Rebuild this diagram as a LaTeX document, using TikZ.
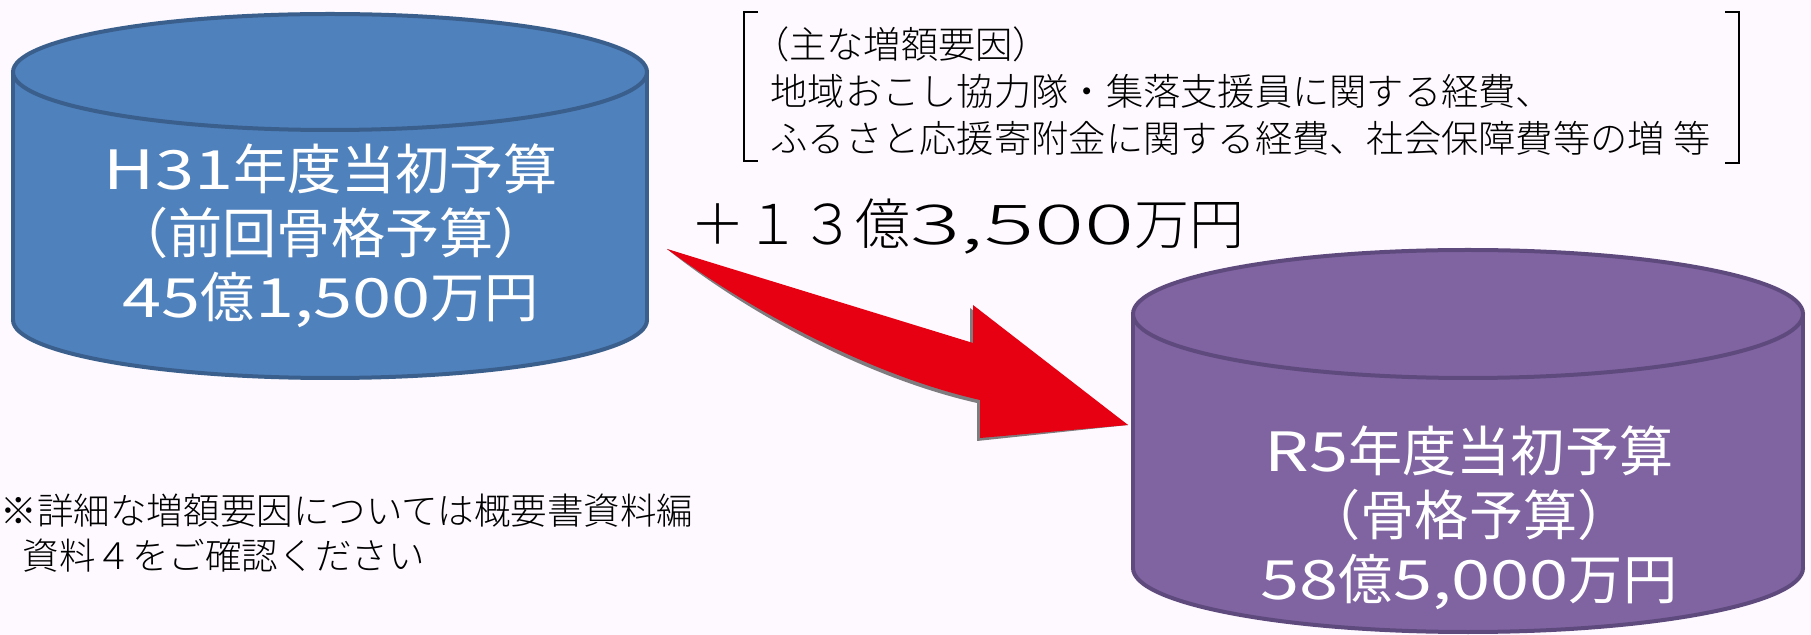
\documentclass[tikz,border=0pt]{standalone}
\usepackage{fontspec}
\setmainfont{Noto Sans CJK JP}
\IfFontExistsTF{Noto Sans CJK JP Light}{\newfontfamily\lightfont{Noto Sans CJK JP Light}}{\newfontfamily\lightfont{Noto Sans CJK JP}}
\usepackage{graphicx}
\definecolor{bg}{RGB}{253,249,254}
\definecolor{cylblue}{HTML}{4F81BD}
\definecolor{cylblueline}{HTML}{3A5F8C}
\definecolor{cylpurple}{HTML}{8064A2}
\definecolor{cylpurpleline}{HTML}{5F4A7D}
\definecolor{arrowred}{HTML}{E60012}
\newcommand\wdig[2][1.3]{\scalebox{#1}[1]{#2}}
% cx, top cy, bottom cy, rx, ry, fill, line
\newcommand\drawcan[7]{%
  \filldraw[fill=#6,draw=#7,line width=0.4mm] (#1,#3) ellipse [x radius=#4, y radius=#5];
  \fill[#6] (#1-#4,#2) rectangle (#1+#4,#3);
  \draw[#7,line width=0.4mm] (#1-#4,#2) -- (#1-#4,#3) (#1+#4,#2) -- (#1+#4,#3);
  \filldraw[fill=#6,draw=#7,line width=0.4mm] (#1,#2) ellipse [x radius=#4, y radius=#5];
}
\begin{document}
\begin{tikzpicture}[x=0.1mm,y=-0.1mm,
  cyltext/.style={text=white, align=center, inner sep=0, font=\fontsize{15.4}{18.2}\selectfont},
  notetext/.style={align=left, inner sep=0, anchor=north west, font=\lightfont\fontsize{10.6}{13.4}\selectfont},
  bracketline/.style={line width=0.2mm, black},
]
\fill[bg] (0,0) rectangle (1811,635);
\useasboundingbox (0,0) rectangle (1811,635);

% cylinders
\drawcan{330}{72}{320}{317}{58}{cylblue}{cylblueline}
\drawcan{1468}{314}{568}{335}{64}{cylpurple}{cylpurpleline}

\node[cyltext] (h31) at (331,236) {\wdig{H31}年度当初予算\\（前回骨格予算）\\\wdig{45}億\wdig{1,500}万円};
\node[cyltext] (r5) at (1469,518) {\wdig{R5}年度当初予算\\（骨格予算）\\\wdig{58}億\wdig{5,000}万円};

% arrow
\coordinate (atail) at (667,249);
\coordinate (atip) at (1128,425);
\fill[black,opacity=0.5,shift={(-3,3)}] (atail) -- (973,343) -- (973,305) -- (atip) -- (980,438) -- (980,400) .. controls (870,375) and (750,310) .. (atail) -- cycle;
\fill[arrowred] (atail) -- (973,343) -- (973,305) -- (atip) -- (980,438) -- (980,400) .. controls (870,375) and (750,310) .. (atail) -- cycle;

% increase label
\node[anchor=base west, inner sep=0, font=\lightfont\fontsize{15.65}{18}\selectfont] (inc) at (690,245) {＋１３億\wdig[1.7]{3,500}万円};

% factors box
\node[notetext] (factors) at (770,26) {\hspace*{-0.5em}（主な増額要因）\\地域おこし協力隊・集落支援員に関する経費、\\ふるさと応援寄附金に関する経費、社会保障費等の増 等};
\draw[bracketline] (758,12) -- (744,12) -- (744,161) -- (758,161);
\draw[bracketline] (1725,12) -- (1739,12) -- (1739,163) -- (1725,163);

% footnote
\node[notetext, font=\lightfont\fontsize{10.4}{12.8}\selectfont] (foot) at (0,493) {※詳細な増額要因については概要書資料編\\\hspace*{0.6em}資料４をご確認ください};
\end{tikzpicture}
\end{document}
